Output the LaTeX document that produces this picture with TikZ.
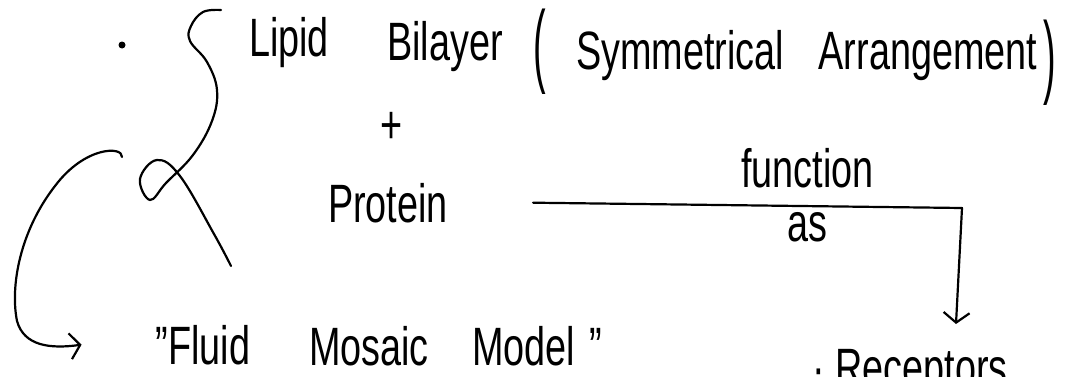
\documentclass[tikz,border=0pt]{standalone}
\usepackage{fontspec}
\setmainfont[FakeStretch=0.7]{Liberation Sans}
\usepackage{graphicx}
\usetikzlibrary{arrows.meta, positioning}

\begin{document}
\begin{tikzpicture}[
		x=1pt, y=1pt,
		font=\fontsize{54}{60}\selectfont,
		% --- TEXT STYLES ---
		word/.style = {inner sep=0pt, anchor=base},
		bigparen/.style = {inner sep=0pt, anchor=center},
		lbl/.style = {inner sep=0pt},
		% --- PEN STYLES ---
		pen/.style = {line width=2.2pt, line cap=round, line join=round},
		arr/.style = {pen, -{Straight Barb[length=10pt, width=26pt, line width=2.2pt]}},
		bulletdot/.style = {circle, fill, inner sep=0pt, minimum size=7pt}
		]
		\useasboundingbox (0,0) rectangle (1069,376);
		
		% =========================================================================
		% 1. TEXT OF THE NOTE
		% =========================================================================
		% First line
		\node [bulletdot] (bullet) at (122,331) {};
		\node [word] (lipid) at (289,320) {Lipid};
		\node [word] (bilayer) at (445,316) {Bilayer};
		\node [bigparen] (lparen) at (540,324) {\scalebox{1}[1.7]{(}};
		\node [word] (symm) at (680,307) {Symmetrical};
		\node [word] (arrang) at (928,307) {Arrangement};
		\node [bigparen] (rparen) at (1050,313) {\scalebox{1}[1.7]{)}};
		
		% Plus sign and second term
		\node [lbl] (plus) at (392,248) {+};
		\node [word] (protein) at (388,154) {Protein};
		
		% Name of the model (bottom line)
		\node [word] (fluid) at (203,12) {"Fluid};
		\node [word] (mosaic) at (369,11) {Mosaic};
		\node [word, anchor=base west] (model) at (472,11) {Model\hspace{14pt}"};
		
		% Bottom right item, cut by the page edge
		\node [word, anchor=base west] (recep) at (812,-10) {· Receptors};
		
		% =========================================================================
		% 2. BRACE AND ARROWS
		% =========================================================================
		% Curly brace with loop grouping the two terms
		\draw [pen] plot [smooth, tension=0.65] coordinates {
			(221,366) (203,364) (191,350) (190,335) (207,314) (217,286) (212,255)
			(193,221) (166,193) (150,176) (140,197) (157,216) (180,200) (214,142) (231,110)};
		
		% Arrow from the loop to the model name
		\coordinate (loopTail) at (122,219);
		\draw [arr] (loopTail) .. controls (123,230) and (85,230) .. (55,190)
		.. controls (20,145) and (10,90) .. (17,55)
		.. controls (24,30) and (50,27) .. ([xshift=-74pt]fluid.west);
		
		% Arrow from Protein down to the receptors
		\coordinate (bend) at (962,168);
		\coordinate (recepTip) at (956,52);
		\draw [arr] ([xshift=85pt]protein.east) --
		node[lbl, above=17pt, pos=0.64] (func) {function}
		node[lbl, below=5pt, pos=0.64] (as) {as}
		(bend) -- (recepTip);
		
	\end{tikzpicture}
\end{document}
